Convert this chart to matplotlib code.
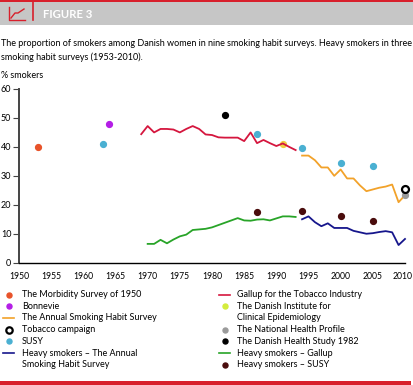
import matplotlib
matplotlib.use("Agg")
import matplotlib.pyplot as plt
from matplotlib.lines import Line2D
from matplotlib.patches import Rectangle
from matplotlib.transforms import ScaledTranslation

plt.rcParams['font.family'] = ['Lato', 'DejaVu Sans']

# data
morbidity_year, morbidity_val = [1953], [40]
bonnevie_year, bonnevie_val = [1964], [48]
susy_years = [1963, 1987, 1994, 2000, 2005]
susy_vals = [41, 44.5, 39.5, 34.5, 33.5]
dhs_year, dhs_val = [1982], [51]
dice_year, dice_val = [1991], [41]
nhp_year, nhp_val = [2010], [23.3]
campaign_year, campaign_val = [2010], [25.6]

gallup_years = list(range(1969, 1994))
gallup_vals = [44.4, 47.2, 45, 46.2, 46.2, 46, 45, 46.2, 47.2, 46.2, 44.3, 44.1, 43.3,
               43.2, 43.2, 43.2, 42, 45, 41.3, 42.4, 41.3, 40.3, 41.2, 40, 38.9]

annual_years = list(range(1994, 2011))
annual_vals = [37, 37, 35.4, 32.9, 32.9, 30, 32.2, 29.1, 29.1, 26.7, 24.7, 25.3, 25.9,
               26.3, 27, 20.9, 23.3]

heavy_gallup_years = list(range(1970, 1994))
heavy_gallup_vals = [6.5, 6.5, 7.9, 6.7, 8, 9.1, 9.7, 11.3, 11.5, 11.7, 12.2, 13, 13.8,
                     14.6, 15.4, 14.6, 14.5, 14.9, 15, 14.6, 15.3, 16, 16, 15.8]

heavy_annual_years = list(range(1994, 2011))
heavy_annual_vals = [15, 16, 14, 12.6, 13.6, 12, 12, 12, 11, 10.5, 10, 10.2, 10.6,
                     10.9, 10.5, 6.1, 8.2]

heavy_susy_years = [1987, 1994, 2000, 2005]
heavy_susy_vals = [17.5, 17.7, 16, 14.3]

c_morb = '#e8532a'
c_bonn = '#b41ee6'
c_annual = '#f2a22a'
c_susy = '#4ab0d2'
c_navy = '#16168c'
c_gallup = '#d5163e'
c_dice = '#d4ec3c'
c_grey = '#9a9a9a'
c_green = '#28a428'
c_brown = '#4a0c0c'
c_red = '#d8202c'

fs = 6.5
W, H = 414, 385
fig = plt.figure(figsize=(W / 100, H / 100), dpi=100)

def fx(px):
    return px / W

def fy(py):
    return 1 - py / H

# header
fig.patches.append(Rectangle((0, fy(25)), 1, fy(2) - fy(25), transform=fig.transFigure,
                             facecolor='#c6c6c6', edgecolor='none'))
fig.patches.append(Rectangle((0, fy(2)), 1, 2 / H, transform=fig.transFigure,
                             facecolor=c_red, edgecolor='none'))
fig.add_artist(Line2D([fx(33), fx(33)], [fy(1), fy(20)], color=c_red, lw=1.2))
fig.add_artist(Line2D([fx(9), fx(9), fx(25)], [fy(7), fy(20), fy(20)], color=c_red, lw=1.0))
fig.add_artist(Line2D([fx(11), fx(15), fx(18), fx(24)], [fy(18), fy(13), fy(13), fy(9)],
                      color=c_red, lw=1.0))
fig.text(fx(43), fy(14.5), 'FIGURE 3', color='white', fontsize=8.2, fontweight='bold',
         va='center', ha='left')
# bottom band
fig.patches.append(Rectangle((0, 0), fx(411), 4 / H, transform=fig.transFigure,
                             facecolor=c_red, edgecolor='none'))

fig.text(fx(1), fy(43), 'The proportion of smokers among Danish women in nine smoking habit '
         'surveys. Heavy smokers in three', fontsize=fs, va='center', ha='left')
fig.text(fx(1), fy(57), 'smoking habit surveys (1953-2010).', fontsize=fs, va='center',
         ha='left')
fig.text(fx(1), fy(75), '% smokers', fontsize=fs, va='center', ha='left')

ax = fig.add_axes([fx(19), fy(262.7), fx(405) - fx(19), fy(89) - fy(262.7)])
ax.set_xlim(1950, 2010)
ax.set_ylim(0, 60)
ax.spines['top'].set_visible(False)
ax.spines['right'].set_visible(False)
ax.spines['left'].set_color('#444444')
ax.spines['left'].set_linewidth(1.4)
ax.spines['bottom'].set_linewidth(1.0)
ax.set_xticks(range(1950, 2011, 5))
ax.set_yticks(range(0, 61, 10))
ax.tick_params(axis='x', length=0, pad=7, labelsize=6.2)
ax.tick_params(axis='y', length=4, width=0.8, color='#444444', pad=1.5, labelsize=fs)
# nudge the last year label so it stays inside the figure
last = ax.get_xticklabels()[-1]
last.set_transform(last.get_transform() + ScaledTranslation(-2 / 100, 0, fig.dpi_scale_trans))

lw = 1.3
ax.plot(gallup_years, gallup_vals, color=c_gallup, lw=lw, clip_on=False)
ax.plot(annual_years, annual_vals, color=c_annual, lw=lw, clip_on=False)
ax.plot(heavy_gallup_years, heavy_gallup_vals, color=c_green, lw=lw, clip_on=False)
ax.plot(heavy_annual_years, heavy_annual_vals, color=c_navy, lw=lw, clip_on=False)

ms = 4.2
ax.plot(morbidity_year, morbidity_val, 'o', color=c_morb, ms=ms, clip_on=False)
ax.plot(bonnevie_year, bonnevie_val, 'o', color=c_bonn, ms=ms, clip_on=False)
ax.plot(susy_years, susy_vals, 'o', color=c_susy, ms=ms, clip_on=False)
ax.plot(dhs_year, dhs_val, 'o', color='black', ms=ms, clip_on=False)
ax.plot(dice_year, dice_val, 'o', color='#f0d040', ms=ms, clip_on=False, zorder=1)
ax.plot(heavy_susy_years, heavy_susy_vals, 'o', color=c_brown, ms=ms, clip_on=False)
ax.plot(nhp_year, nhp_val, 'o', color=c_grey, ms=ms, clip_on=False)
ax.plot(campaign_year, campaign_val, 'o', mfc='white', mec='black', mew=1.6, ms=5,
        clip_on=False)

# legend drawn by hand in two columns
left_entries = [
    ('dot', c_morb, 'The Morbidity Survey of 1950'),
    ('dot', c_bonn, 'Bonnevie'),
    ('line', c_annual, 'The Annual Smoking Habit Survey'),
    ('ring', 'black', 'Tobacco campaign'),
    ('dot', c_susy, 'SUSY'),
    ('line', c_navy, 'Heavy smokers \u2013 The Annual'),
    (None, None, 'Smoking Habit Survey'),
]
right_entries = [
    ('line', c_gallup, 'Gallup for the Tobacco Industry'),
    ('dot', c_dice, 'The Danish Institute for'),
    (None, None, 'Clinical Epidemiology'),
    ('dot', c_grey, 'The National Health Profile'),
    ('dot', 'black', 'The Danish Health Study 1982'),
    ('line', c_green, 'Heavy smokers \u2013 Gallup'),
    ('dot', c_brown, 'Heavy smokers \u2013 SUSY'),
]
row0, step = 294.5, 11.7
for col_x, text_x, entries in [(9, 22, left_entries), (225, 237, right_entries)]:
    for i, (kind, col, label) in enumerate(entries):
        y = row0 + i * step
        if kind == 'dot':
            fig.add_artist(Line2D([fx(col_x)], [fy(y)], marker='o', color=col, ms=3.6, lw=0))
        elif kind == 'ring':
            fig.add_artist(Line2D([fx(col_x)], [fy(y)], marker='o', mfc='white', mec='black',
                                  mew=1.6, ms=4.6, lw=0))
        elif kind == 'line':
            fig.add_artist(Line2D([fx(col_x - 6), fx(col_x + 5)], [fy(y), fy(y)], color=col,
                                  lw=1.2))
        fig.text(fx(text_x), fy(y), label, fontsize=fs, va='center', ha='left')

fig.savefig('out.png', dpi=100)
